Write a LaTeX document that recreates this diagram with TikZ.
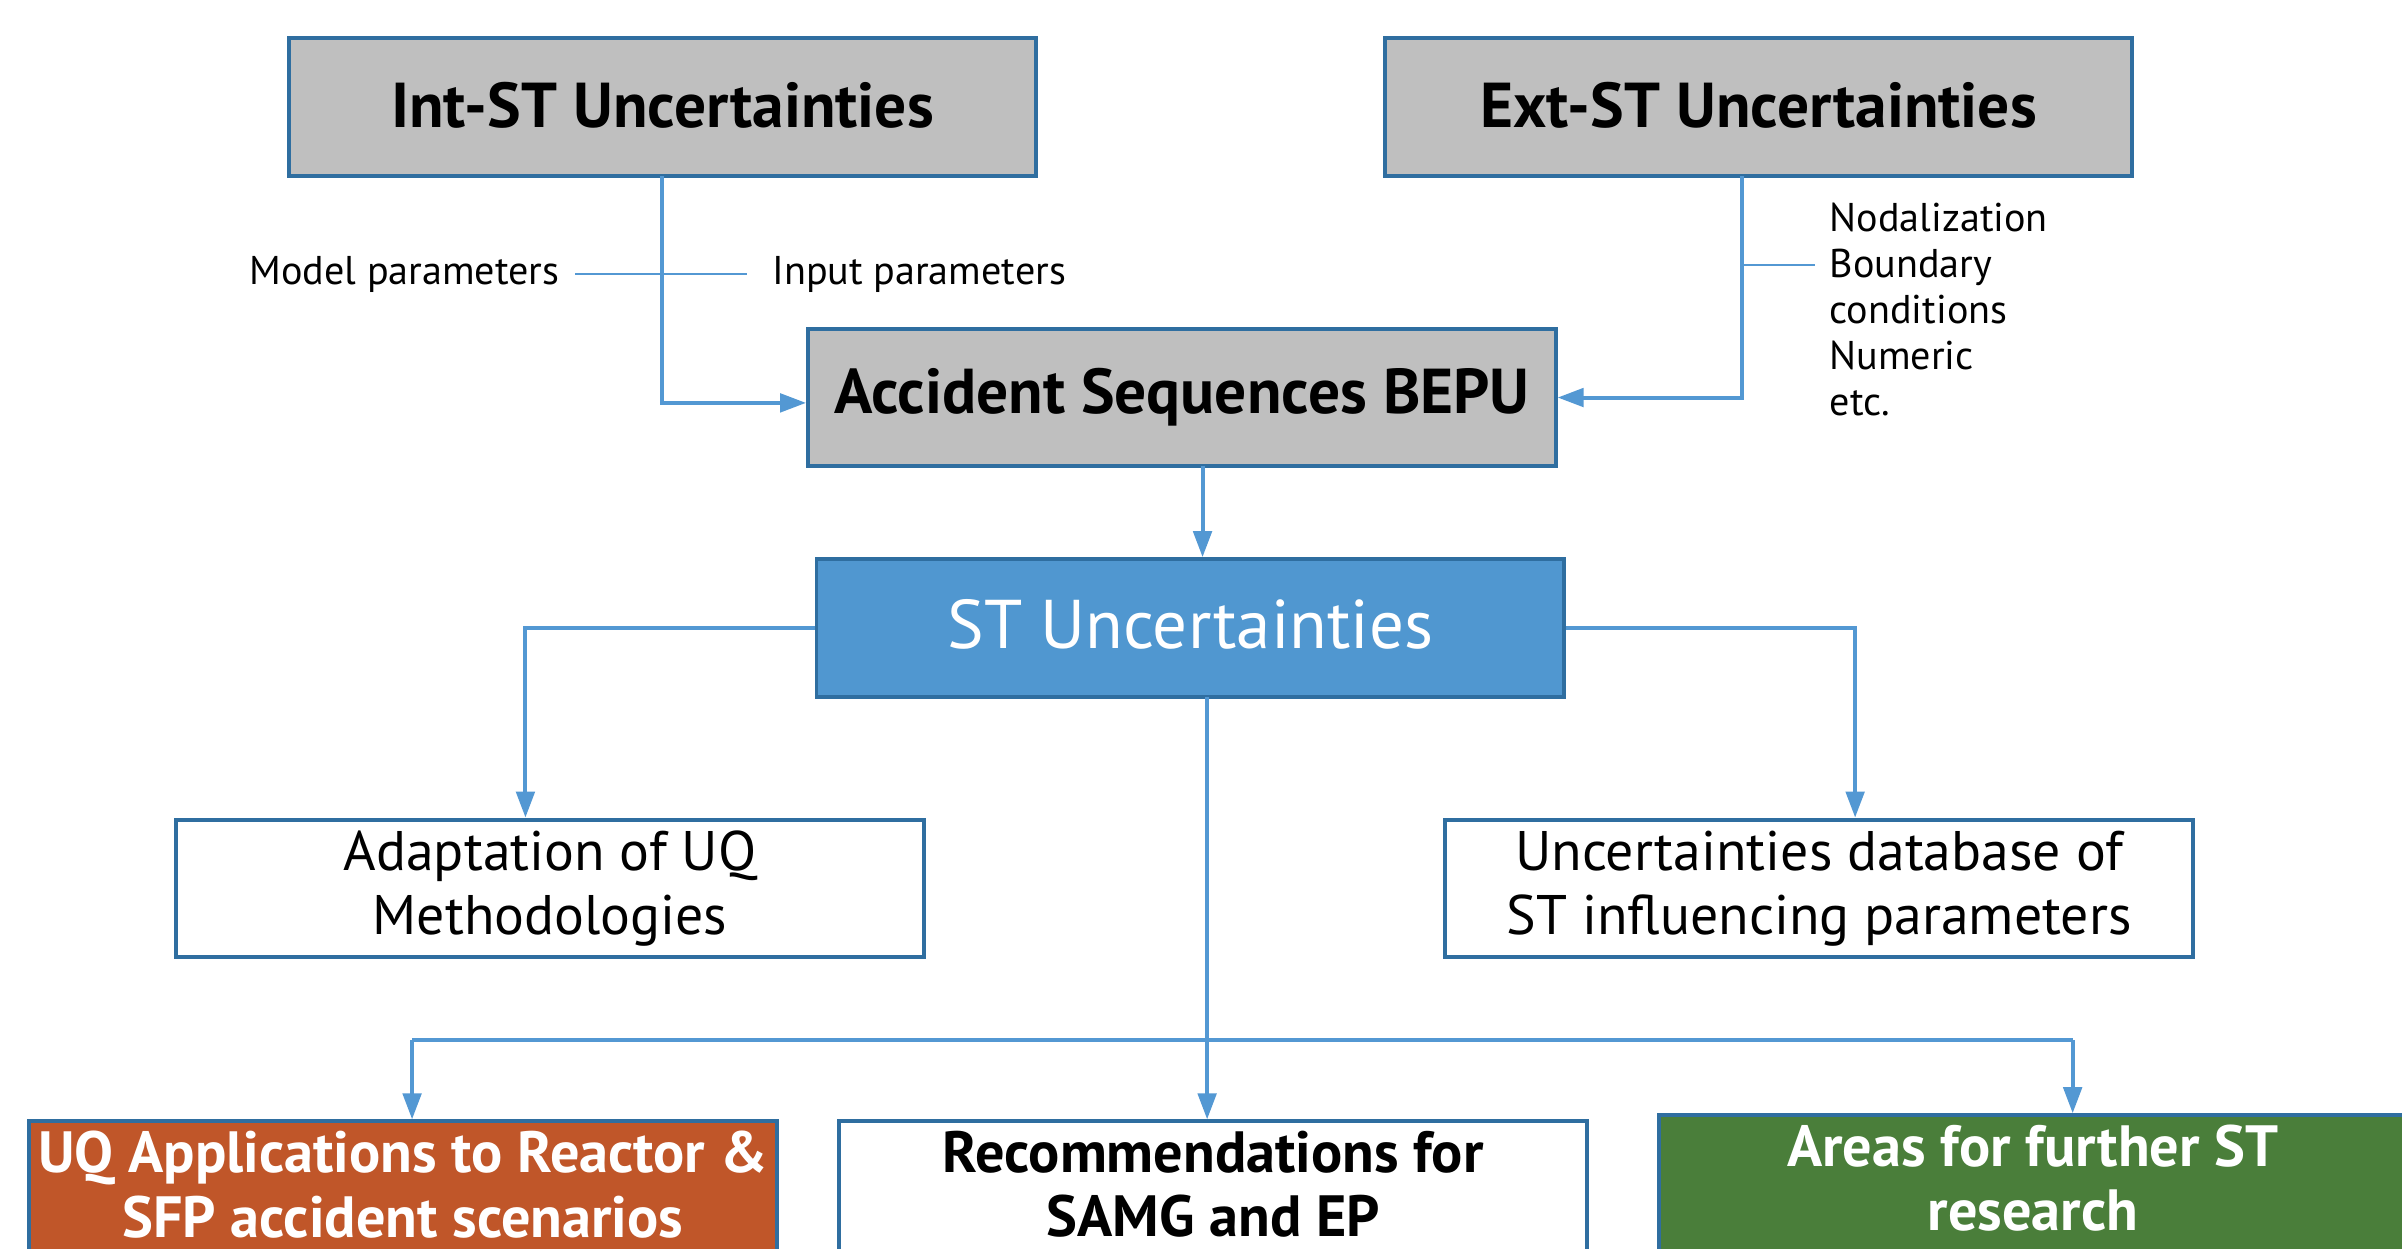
\documentclass[tikz,border=0pt]{standalone}
\usepackage{fontspec}
\setmainfont{PT Sans}
\usetikzlibrary{arrows.meta}
\definecolor{bordblue}{RGB}{47,110,160}
\definecolor{connblue}{RGB}{83,152,211}
\definecolor{boxgray}{RGB}{191,191,191}
\definecolor{stfill}{RGB}{80,151,208}
\definecolor{orangefill}{RGB}{192,86,41}
\definecolor{greenfill}{RGB}{74,126,58}
\tikzset{
  box/.style={draw=bordblue, line width=1.3pt, minimum width=244pt, minimum height=45pt, inner sep=0pt, align=center},
  graybox/.style={box, fill=boxgray, font=\fontsize{20.7}{24}\selectfont\bfseries},
  whitebox/.style={box, fill=white, font=\fontsize{18.2}{21}\selectfont},
  bottombox/.style={box, font=\fontsize{19}{21}\selectfont\bfseries},
  conn/.style={draw=connblue, line width=1.3pt},
  arr/.style={conn, -{Triangle[length=8.5pt,width=6pt]}},
  thinconn/.style={draw=connblue, line width=0.6pt},
  lbl/.style={inner sep=0pt, font=\fontsize{13.1}{15}\selectfont}
}
\begin{document}
\begin{tikzpicture}[x=0.5pt,y=-0.5pt]
\useasboundingbox (0,0) rectangle (1568,815);
\clip (0,0) rectangle (1568,815);
\fill[white] (0,0) rectangle (1568,815);
% boxes
\node[graybox] (int) at (432.5,70) {\raisebox{1.5pt}{Int-ST Uncertainties}};
\node[graybox] (ext) at (1148,70) {\raisebox{1.5pt}{Ext-ST Uncertainties}};
\node[graybox] (acc) at (771.5,259.5) {Accident Sequences BEPU};
\node[box, fill=stfill, text=white, font=\fontsize{22.5}{25}\selectfont] (st) at (777,410) {\raisebox{2.5pt}{ST Uncertainties}};
\node[whitebox] (adapt) at (359,580) {Adaptation of UQ\\Methodologies};
\node[whitebox] (db) at (1187.5,580) {Uncertainties database of\\ST influencing parameters};
\node[bottombox, fill=orangefill, text=white] (uqa) at (263,777) {UQ Applications to Reactor \&\\SFP accident scenarios\vphantom{g}};
\node[bottombox, fill=white] (rec) at (792,777) {Recommendations for\\SAMG and EP\vphantom{g}};
\node[bottombox, fill=greenfill, text=white] (areas) at (1327,773) {Areas for further ST\\research\vphantom{g}};
% labels
\node[lbl] (mp) at (264,179) {Model parameters};
\node[lbl] (ip) at (600,179) {Input parameters};
\node[lbl, anchor=north west, align=left] (list) at (1194,132) {Nodalization\\Boundary\\conditions\\Numeric\\etc.};
% connectors
\coordinate (ix) at (432,115);
\coordinate (ex) at (1137,115);
\coordinate (ax) at (785,304);
\coordinate (sb) at (788,455);
\coordinate (hl) at (269,679);
\coordinate (hr) at (1353,679);
\coordinate (e1) at (1137,173);
\coordinate (e2) at (1185,173);
\draw[thinconn] ([xshift=5pt]mp.east) -- ([xshift=-8pt]ip.west);
\draw[thinconn] (e1) -- (e2);
\draw[arr] (ix) |- ([yshift=-1.75pt]acc.west);
\draw[arr] (ex) |- (acc.east);
\draw[arr] (ax) -- (ax |- st.north);
\draw[arr] (st.west) -| ([xshift=-8pt]adapt.north);
\draw[arr] (st.east) -| ([xshift=11.75pt]db.north);
\draw[arr] (sb) -- (sb |- rec.north);
\draw[conn] (hl) -- (hr);
\draw[arr] (hl) -- (hl |- uqa.north);
\draw[arr] (hr) -- (hr |- areas.north);
\end{tikzpicture}
\end{document}
